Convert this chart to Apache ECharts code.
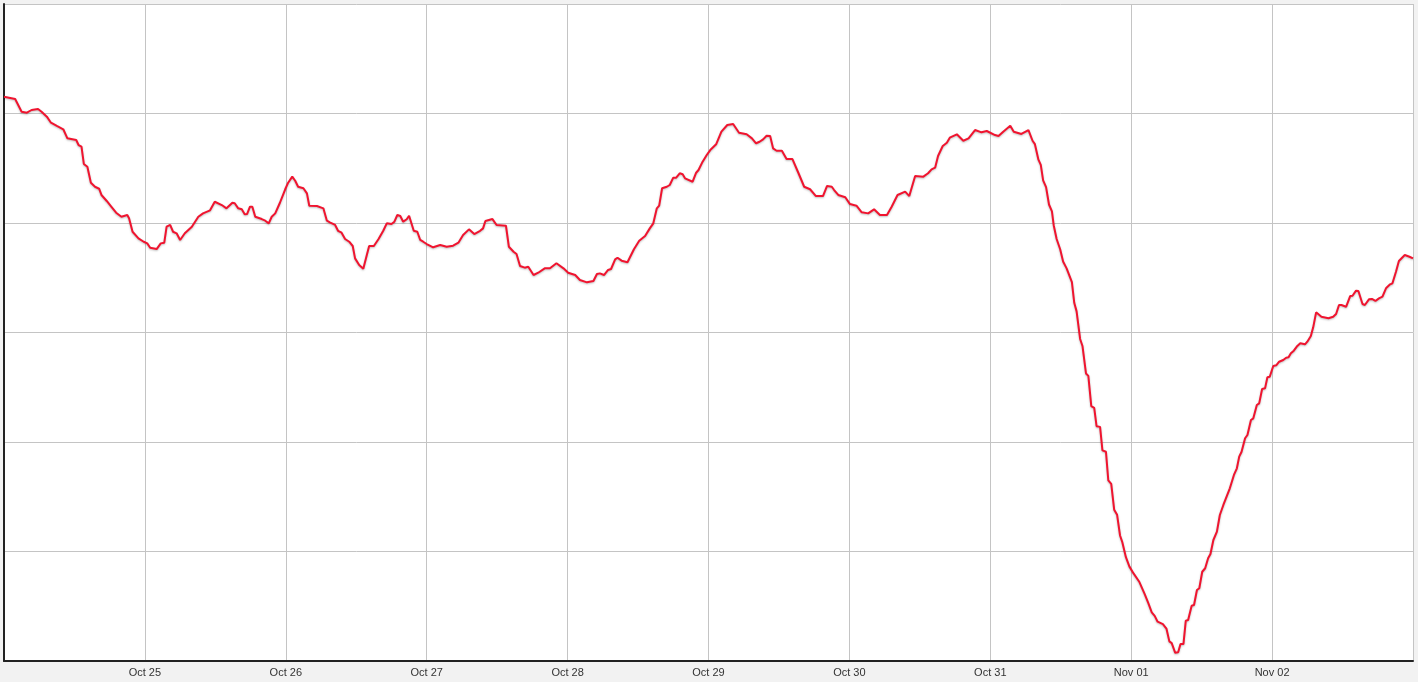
<!DOCTYPE html>
<html>
<head>
<meta charset="utf-8">
<script src="https://cdn.jsdelivr.net/npm/echarts@6/dist/echarts.min.js"></script>
<style>
html, body { margin: 0; padding: 0; background: #f2f2f2; }
#main { width: 1418px; height: 682px; }
</style>
</head>
<body>
<div id="main"></div>
<script>
// start of the window: Oct 24, 00:00 (UTC)
const startDay = Date.UTC(2015, 9, 24)
const dayMs = 24 * 3600 * 1000
const monthNames = ['Jan', 'Feb', 'Mar', 'Apr', 'May', 'Jun', 'Jul', 'Aug', 'Sep', 'Oct', 'Nov', 'Dec']

// hours since startDay
const hours = [
  0, 1.9, 2.2, 3.0, 3.9, 4.7, 5.8, 6.4, 7.3, 8.0, 9.0, 10.1, 10.8, 12.3, 12.7, 13.2, 13.6, 14.2, 14.8, 15.5,
  16.2, 16.6, 17.5, 18.2, 19.1, 20.0, 21.0, 21.3, 21.9, 22.9, 23.8, 24.4, 24.9, 26.0, 26.7, 27.3, 27.7, 28.3, 28.8, 29.4,
  30.0, 30.3, 30.8, 32.0, 33.1, 33.9, 35.1,
  35.9, 37.1, 37.9, 38.9, 39.3, 39.9, 40.5, 41.0, 41.4, 41.9, 42.3, 42.8, 43.9, 44.5, 45.1, 45.6, 46.2, 47.0, 47.9, 48.4,
  49.1, 49.6, 50.1, 51.0, 51.6, 52.0, 53.3, 54.4, 55.0, 55.5, 56.4, 56.9, 57.5, 58.1, 58.8, 59.4, 59.8, 60.5, 61.2, 61.8,
  62.2, 63.0, 63.8, 64.6, 65.2, 66.0, 66.5, 67.0, 67.5, 68.0, 68.6, 69.0, 69.3, 69.8, 70.4, 70.9,
  71.4, 72.0, 73.1, 74.3, 75.4, 76.5, 77.4, 78.2, 79.2, 80.1, 81.1, 81.6, 82.0, 82.6, 83.2, 83.9, 85.5, 86.0, 86.8, 87.3,
  87.9, 88.7, 89.3, 90.2, 91.0, 92.1, 93.0, 94.1, 95.3, 96.1, 97.3, 98.1, 99.3, 100.4, 101.0, 101.5, 102.2, 102.9, 103.4, 104.1,
  104.5, 105.2,
  106.2, 107.3, 108.2, 109.2, 110.0, 110.6, 111.2, 111.6, 112.1, 112.9, 113.4, 114.0, 114.5, 115.1, 115.6, 116.0, 117.3, 117.9, 118.3, 119.0,
  119.7, 120.3, 121.3, 122.2, 123.2, 124.2, 125.2, 126.5, 127.4, 128.1, 128.7, 129.3, 129.9, 130.5, 131.0, 131.6, 132.5, 133.3, 134.3, 135.3,
  136.3, 137.3, 138.3, 139.5,
  140.2, 141.0, 141.4, 142.1, 143.3, 144.1, 145.2, 146.1, 147.2, 148.2, 149.2, 150.4, 151.2, 152.2, 153.5, 154.2, 155.2, 156.6, 157.4, 158.0,
  158.6, 159.1, 159.9, 160.6, 161.1, 162.3, 163.4, 164.3, 165.4, 166.5, 167.4, 168.8, 169.4, 170.2, 171.4, 172.0, 173.3, 174.5,
  175.2, 175.6, 176.2, 176.6, 177.0, 177.5, 178.0, 178.5, 178.8, 179.3, 179.9, 180.4, 181.0, 181.9, 182.3, 182.7, 183.3, 183.7, 184.3, 184.7,
  185.2, 185.7, 186.1, 186.7, 187.1, 187.7, 188.1, 188.6, 189.1, 189.6, 190.1, 190.5, 191.1, 191.7, 192.4, 193.4, 194.3, 194.9, 195.5, 196.0,
  196.5, 197.4, 198.0, 198.5, 198.9, 199.5, 200.0,
  200.4, 200.9, 201.3, 201.7, 202.3, 202.7, 203.2, 203.6, 204.1, 204.6, 205.1, 205.5, 206.0, 206.6, 207.1, 207.7, 208.8, 209.5, 210.0, 210.4,
  210.8, 211.4, 211.8, 212.4, 212.8, 213.4, 213.8, 214.3, 214.8, 215.2, 215.6, 216.2, 216.7, 217.2, 217.9, 218.4, 218.8, 219.2, 219.7, 220.3,
  220.8, 221.6, 222.0, 222.6, 223.0, 223.5, 224.4, 225.6, 226.4, 226.9, 227.4, 227.8, 228.6, 229.3, 229.7, 230.3, 230.7, 231.4, 231.8, 232.5,
  233.0, 233.6, 234.2, 234.8, 235.4, 236.1, 236.5, 237.1, 237.6, 238.6, 239.4, 240.0
]

const values = [
  515.3, 513.2, 512.3, 501.6, 500.7, 503.2, 504.1, 501.6, 497.1, 491.6, 488.6, 485.6, 477.3, 475.8, 471.2, 469.7, 453.9, 451.4, 436.8, 433.1,
  431.3, 425.6, 420.1, 415.5, 409.4, 405.7, 407.3, 404.3, 392.0, 386.0, 382.9, 381.4, 377.4, 376.2, 381.4, 382.0, 396.6, 398.2, 392.0, 390.6,
  384.5, 383.8, 390.6, 396.6, 405.7, 408.8, 411.6,
  419.4, 416.4, 413.4, 418.5, 418.0, 413.4, 412.5, 407.9, 408.2, 414.9, 414.9, 405.7, 403.6, 402.1, 399.7, 405.7, 408.8, 418.5, 430.8, 436.8,
  442.3, 438.6, 433.1, 431.7, 427.1, 415.8, 415.5, 413.4, 402.1, 400.6, 398.2, 392.9, 391.1, 385.4, 382.9, 379.0, 367.7, 361.6, 358.2, 370.8,
  379.0, 379.0, 385.4, 392.9, 399.7, 399.1, 401.2, 407.3, 406.4, 401.2, 403.4, 406.6, 406.4, 392.9, 392.0, 384.5,
  382.9, 380.8, 377.8, 379.9, 378.3, 379.3, 382.0, 389.0, 394.2, 389.9, 392.9, 395.1, 401.8, 402.7, 403.6, 398.2, 397.5, 378.3, 373.8, 371.7,
  360.7, 359.2, 360.1, 352.5, 354.6, 358.6, 358.6, 363.2, 358.6, 354.6, 352.5, 347.9, 345.8, 347.0, 353.4, 354.0, 352.5, 357.1, 358.0, 366.8,
  368.3, 365.6,
  364.1, 376.0, 383.8, 388.1, 395.1, 399.7, 413.4, 415.8, 431.7, 433.1, 434.7, 441.4, 441.4, 445.4, 444.5, 440.8, 437.7, 445.9, 448.4, 456.0,
  462.1, 466.6, 471.9, 483.4, 489.5, 490.4, 482.4, 481.0, 477.3, 472.8, 474.2, 476.4, 479.7, 479.4, 468.2, 466.0, 466.0, 458.4, 458.4, 445.9,
  433.1, 430.8, 424.6, 424.6,
  433.8, 433.1, 430.1, 425.6, 423.5, 417.3, 415.8, 409.8, 408.8, 412.5, 407.3, 407.3, 414.9, 425.6, 428.6, 424.6, 442.9, 442.3, 445.4, 449.0,
  450.5, 461.2, 470.3, 473.3, 477.9, 481.0, 475.1, 477.3, 484.9, 482.8, 484.0, 480.3, 479.4, 483.4, 488.8, 483.4, 481.3, 484.9,
  475.1, 472.0, 457.8, 453.1, 439.0, 432.7, 416.9, 410.6, 398.0, 385.4, 376.0, 364.9, 358.6, 346.0, 327.1, 319.3, 294.1, 287.7, 262.6, 260.4,
  232.7, 231.1, 214.4, 213.8, 192.4, 191.1, 165.0, 161.8, 138.2, 133.5, 114.6, 108.3, 94.8, 86.2, 80.0, 72.1, 61.1, 53.1, 44.4, 41.2,
  35.9, 33.7, 29.6, 17.9, 16.3, 7.5, 7.9,
  15.5, 15.5, 36.8, 37.4, 50.5, 51.1, 64.8, 66.4, 81.5, 84.7, 93.8, 97.7, 110.5, 118.1, 133.3, 142.5, 157.7, 169.9, 176.0, 186.6,
  191.1, 203.4, 206.4, 220.1, 221.6, 233.8, 235.3, 248.4, 249.0, 259.1, 259.6, 269.4, 270.0, 273.3, 274.9, 277.0, 277.3, 281.0, 283.4, 287.7,
  290.1, 289.2, 291.6, 296.8, 304.7, 318.4, 314.4, 313.0, 314.4, 316.9, 325.1, 325.1, 323.5, 333.3, 333.6, 338.2, 337.9, 326.0, 325.1, 330.3,
  330.6, 328.8, 331.2, 332.7, 340.4, 344.0, 344.9, 355.5, 365.3, 370.8, 369.2, 367.7
]

const seriesData = hours.map((h, i) => [startDay + h * 3600 * 1000, values[i]])

const chartDom = echarts.init(document.getElementById('main'))
const option = {
  backgroundColor: '#f2f2f2',
  animation: false,
  grid: {
    left: 4,
    right: 5,
    top: 4,
    bottom: 21,
    show: true,
    backgroundColor: '#fff',
    borderWidth: 0,
  },
  xAxis: {
    type: 'value',
    min: startDay,
    max: startDay + 10 * dayMs,
    interval: dayMs,
    axisLine: { show: true, onZero: false, lineStyle: { color: '#222', width: 2 } },
    axisTick: { show: false },
    axisLabel: {
      color: '#333',
      fontSize: 11,
      fontFamily: 'Liberation Sans',
      margin: 6,
      showMinLabel: false,
      showMaxLabel: false,
      formatter: (v) => {
        const d = new Date(v)
        const day = String(d.getUTCDate()).padStart(2, '0')
        return monthNames[d.getUTCMonth()] + ' ' + day
      },
    },
    splitLine: { show: true, lineStyle: { color: '#c4c4c4', width: 1 } },
  },
  yAxis: {
    type: 'value',
    min: 0,
    max: 600,
    interval: 100,
    axisLine: { show: true, lineStyle: { color: '#222', width: 2 } },
    axisTick: { show: false },
    axisLabel: { show: false },
    splitLine: { show: true, lineStyle: { color: '#c4c4c4', width: 1 } },
  },
  series: [
    {
      type: 'line',
      data: seriesData,
      showSymbol: false,
      smooth: false,
      lineStyle: {
        color: '#f0142f',
        width: 2,
        shadowColor: 'rgba(0,0,0,0.25)',
        shadowBlur: 2,
        shadowOffsetY: 1,
      },
    },
  ],
}
chartDom.setOption(option)
</script>
</body>
</html>
